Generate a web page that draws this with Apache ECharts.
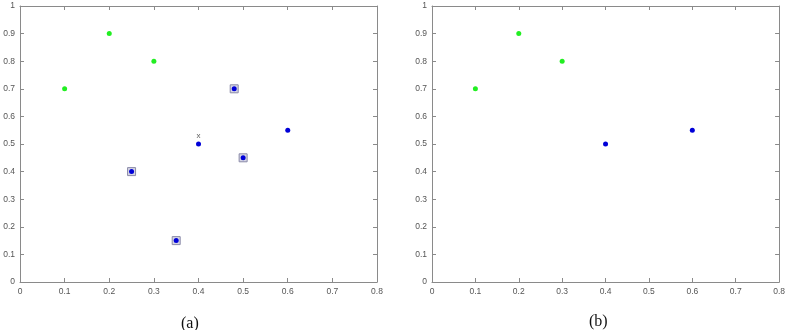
<!DOCTYPE html>
<html>
<head>
<meta charset="utf-8">
<script src="https://cdn.jsdelivr.net/npm/echarts@6/dist/echarts.min.js"></script>
<style>
  html, body { margin: 0; padding: 0; background: #fff; }
  #chart { width: 788px; height: 330px; }
</style>
</head>
<body>
<div id="chart"></div>
<script>
// data plot (a)
const greenA = [[0.1, 0.7], [0.2, 0.9], [0.3, 0.8]];
const blueA = [[0.25, 0.4], [0.35, 0.15], [0.4, 0.5], [0.48, 0.7], [0.5, 0.45], [0.6, 0.55]];
const boxedA = [[0.25, 0.4], [0.35, 0.15], [0.48, 0.7], [0.5, 0.45]];
const crossA = [[0.4, 0.53]];
// data plot (b)
const greenB = [[0.1, 0.7], [0.2, 0.9], [0.3, 0.8]];
const blueB = [[0.4, 0.5], [0.6, 0.55]];
const captions = ['(a)', '(b)'];

const axisCol = '#8a8a8a';
const labelStyle = { color: '#555', fontSize: 8.5, fontFamily: 'Liberation Sans, Arial' };

function xAx(grid, pos, show) {
    return {
        type: 'value', gridIndex: grid, position: pos, min: 0, max: 0.8, interval: 0.1,
        axisLine: { show: true, onZero: false, lineStyle: { color: axisCol } },
        axisTick: { show: true, inside: true, length: 4, lineStyle: { color: axisCol } },
        axisLabel: Object.assign({ show: show, margin: 5 }, labelStyle),
        splitLine: { show: false }
    };
}
function yAx(grid, pos, show) {
    return {
        type: 'value', gridIndex: grid, position: pos, min: 0, max: 1, interval: 0.1,
        axisLine: { show: true, onZero: false, lineStyle: { color: axisCol } },
        axisTick: { show: true, inside: true, length: 4, lineStyle: { color: axisCol } },
        axisLabel: Object.assign({ show: show, margin: 5 }, labelStyle),
        splitLine: { show: false }
    };
}

const dot = (col) => ({ color: col, opacity: 1 });

const chart = echarts.init(document.getElementById('chart'));
chart.setOption({
    animation: false,
    grid: [
        { left: 20, top: 6, width: 357, height: 276 },
        { left: 432, top: 6, width: 348, height: 276 }
    ],
    xAxis: [xAx(0, 'bottom', true), xAx(0, 'top', false), xAx(1, 'bottom', true), xAx(1, 'top', false)],
    yAxis: [yAx(0, 'left', true), yAx(0, 'right', false), yAx(1, 'left', true), yAx(1, 'right', false)],
    graphic: [
        { type: 'text', left: 181, top: 316, style: { text: captions[0], font: '16px "Liberation Serif"', fill: '#111' } },
        { type: 'text', left: 589, top: 314, style: { text: captions[1], font: '16px "Liberation Serif"', fill: '#111' } }
    ],
    series: [
        { type: 'scatter', xAxisIndex: 0, yAxisIndex: 0, data: boxedA, symbol: 'rect', symbolSize: 8,
          itemStyle: { color: '#d6d6e4', borderColor: '#8a8aa8', borderWidth: 1, opacity: 1 } },
        { type: 'scatter', xAxisIndex: 0, yAxisIndex: 0, data: greenA, symbolSize: 5, itemStyle: dot('#22ee22') },
        { type: 'scatter', xAxisIndex: 0, yAxisIndex: 0, data: blueA, symbolSize: 5, itemStyle: dot('#0000d8') },
        { type: 'scatter', xAxisIndex: 0, yAxisIndex: 0, data: crossA, symbolSize: 1, itemStyle: { color: 'rgba(0,0,0,0)' },
          label: { show: true, position: 'inside', formatter: 'x', color: '#333', fontSize: 8, fontFamily: 'Liberation Sans' } },
        { type: 'scatter', xAxisIndex: 2, yAxisIndex: 2, data: greenB, symbolSize: 5, itemStyle: dot('#22ee22') },
        { type: 'scatter', xAxisIndex: 2, yAxisIndex: 2, data: blueB, symbolSize: 5, itemStyle: dot('#0000d8') }
    ]
});
</script>
</body>
</html>
